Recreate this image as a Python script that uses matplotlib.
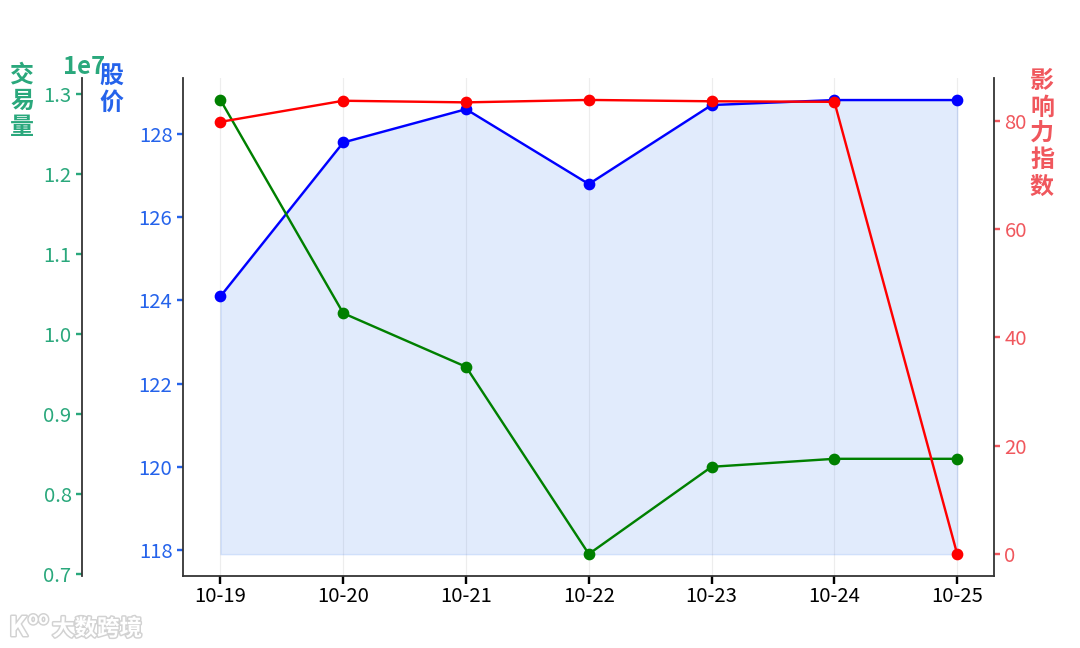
import matplotlib
matplotlib.use('Agg')
import matplotlib.pyplot as plt
import matplotlib.patheffects as pe

plt.rcParams['font.family'] = ['Noto Sans CJK SC', 'DejaVu Sans']
plt.rcParams['axes.unicode_minus'] = False

dates = ['10-19', '10-20', '10-21', '10-22', '10-23', '10-24', '10-25']
price = [124.1, 127.8, 128.6, 126.8, 128.7, 128.82, 128.82]
volume = [12925000, 10260000, 9590000, 7250000, 8340000, 8440000, 8440000]
influence = [79.8, 83.7, 83.4, 83.85, 83.6, 83.5, 0.0]

BLUE = '#2563eb'
GREEN = '#2aa87c'
RED = '#f0575d'
SPINE = '#333333'

fig = plt.figure(figsize=(10, 6), dpi=108)
ax = fig.add_axes([183 / 1080, 72 / 648, 811 / 1080, 498 / 648])
ax_vol = ax.twinx()
ax_inf = ax.twinx()

# price with shaded area
ax.fill_between(dates, price, 117.9, color='#3b7cf0', alpha=0.15)
ax.plot(dates, price, color='blue', marker='o', markersize=6.8, linewidth=1.6, zorder=3)
ax_vol.plot(dates, volume, color='green', marker='o', markersize=6.8, linewidth=1.6)
ax_inf.plot(dates, influence, color='red', marker='o', markersize=6.8, linewidth=1.6)

ax.set_xlim(-0.305, 6.3)
ax.set_ylim(117.375, 129.35)
ax_vol.set_ylim(6975000, 13200000)
ax_inf.set_ylim(-4.06, 87.9)

ax.set_yticks([118, 120, 122, 124, 126, 128])
ax_vol.set_yticks([7000000, 8000000, 9000000, 10000000, 11000000, 12000000, 13000000])
ax_inf.set_yticks([0, 20, 40, 60, 80])

ax.grid(True, axis='x', color='#cccccc', alpha=0.35, linewidth=0.8)
ax.set_axisbelow(True)

ax_vol.spines['left'].set_position(('axes', -0.1245))
ax_vol.yaxis.set_label_position('left')
ax_vol.yaxis.set_ticks_position('left')

for a in [ax, ax_vol, ax_inf]:
    a.spines['top'].set_visible(False)
    for s in a.spines.values():
        s.set_color(SPINE)
        s.set_linewidth(1.2)
ax.spines['right'].set_visible(False)
ax_vol.spines['right'].set_visible(False)
ax_vol.spines['bottom'].set_visible(False)
ax_inf.spines['left'].set_visible(False)
ax_inf.spines['bottom'].set_visible(False)

ax.tick_params(axis='x', colors='black', labelsize=13.5, width=1.6, length=5, pad=1.5)
ax.tick_params(axis='y', colors=BLUE, labelsize=13.5, width=1.6, length=4, pad=3)
ax_vol.tick_params(axis='y', colors=GREEN, labelsize=13.5, width=1.6, length=4, pad=3)
ax_inf.tick_params(axis='y', colors=RED, labelsize=13.5, width=1.6, length=4, pad=3)

off = ax_vol.yaxis.get_offset_text()
off.set_fontsize(16)
off.set_fontweight('bold')
off.set_color(GREEN)
off.set_position((-0.148, 1))

# stacked axis titles
fig.text(22 / 1080, 1 - 101 / 648, '交\n易\n量', color=GREEN, fontsize=16, fontweight='bold',
         ha='center', va='center', linespacing=1.13)
fig.text(111 / 1080, 1 - 90 / 648, '股\n价', color=BLUE, fontsize=16, fontweight='bold',
         ha='center', va='center', linespacing=1.13)
fig.text(1042 / 1080, 1 - 134 / 648, '影\n响\n力\n指\n数', color=RED, fontsize=16, fontweight='bold',
         ha='center', va='center', linespacing=1.13)

# watermark
halo = [pe.withStroke(linewidth=2, foreground='#d2d2d2')]
fig.text(52 / 1080, 1 - 629 / 648, '大数跨境', color='white', fontsize=15, fontweight='bold',
         ha='left', va='center', path_effects=halo)
fig.text(9 / 1080, 1 - 628 / 648, 'K', color='white', fontsize=18, fontweight='bold',
         ha='left', va='center', path_effects=halo)
fig.text(28 / 1080, 1 - 619 / 648, 'oo', color='white', fontsize=11, fontweight='bold',
         ha='left', va='center', path_effects=halo)

fig.savefig('out.png', dpi=108)
